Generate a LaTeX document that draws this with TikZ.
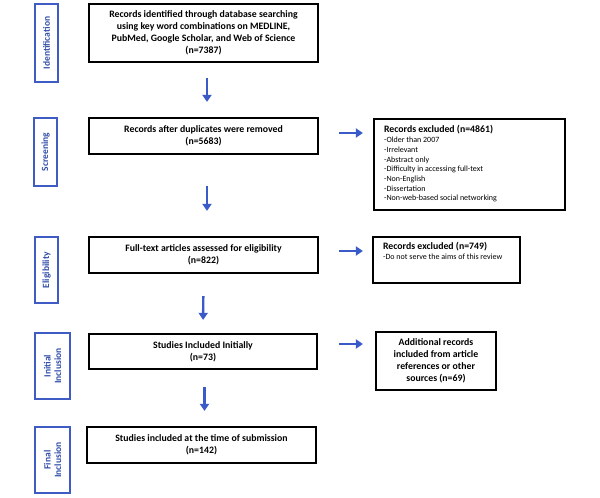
\documentclass[tikz,border=0pt]{standalone}
\usepackage{fontspec}
\setmainfont{Carlito}
\usetikzlibrary{arrows.meta}
\definecolor{phaseblue}{RGB}{62,92,196}
\definecolor{phasetext}{RGB}{48,78,170}
\definecolor{arrowblue}{RGB}{58,90,200}
\tikzset{
  mainbox/.style={draw=black, line width=2.2pt, minimum width=#1, inner sep=0pt, align=center,
    font=\fontsize{9.8}{12}\selectfont\bfseries},
  sidebox/.style={draw=black, line width=2.2pt, inner sep=0pt},
  phasebox/.style={draw=phaseblue, line width=1.7pt, rotate=90, inner sep=0pt, align=center,
    text=phasetext, font=\fontsize{9.5}{10.5}\selectfont\bfseries},
  arr/.style={draw=arrowblue, line width=2.4pt, -{Triangle[width=9pt,length=7pt]}},
  listtext/.style={anchor=north west, inner sep=0pt, align=left, font=\fontsize{8}{9.7}\selectfont},
  titletext/.style={anchor=west, inner sep=0pt, font=\fontsize{9.8}{12}\selectfont\bfseries}
}
\begin{document}
\begin{tikzpicture}[x=1pt,y=-1pt]
\useasboundingbox[fill=white] (0,0) rectangle (600,498);
% phase labels
\node[phasebox, minimum width=78pt, minimum height=23pt] (p1) at (46.5,43) {Identification};
\node[phasebox, minimum width=68pt, minimum height=23pt] (p2) at (45.5,152) {Screening};
\node[phasebox, minimum width=66pt, minimum height=23pt] (p3) at (46.5,270) {Eligibility};
\node[phasebox, minimum width=66pt, minimum height=35pt] (p4) at (52.5,366) {Initial\\Inclusion};
\node[phasebox, minimum width=66pt, minimum height=35pt] (p5) at (52.5,460) {Final\\Inclusion};
% main boxes
\node[mainbox=229pt, minimum height=58pt] (b1) at (203.5,33) {Records identified through database searching\\using key word combinations on MEDLINE,\\PubMed, Google Scholar, and Web of Science\\(n=7387)};
\node[mainbox=229pt, minimum height=36pt] (b2) at (203.5,136) {Records after duplicates were removed\\(n=5683)};
\node[mainbox=229pt, minimum height=36pt] (b3) at (203.5,255) {Full-text articles assessed for eligibility\\(n=822)};
\node[mainbox=228pt, minimum height=35pt] (b4) at (203,351.5) {Studies Included Initially\\(n=73)};
\node[mainbox=229pt, minimum height=36pt] (b5) at (201.5,445) {Studies included at the time of submission\\(n=142)};
% side boxes
\node[sidebox, minimum width=191pt, minimum height=91pt] (ex1) at (469.5,164.5) {};
\node[titletext] (ex1t) at ([xshift=11pt,yshift=-12pt]ex1.north west) {Records excluded (n=4861)};
\node[listtext] (ex1l) at ([xshift=11pt,yshift=-19pt]ex1.north west) {-Older than 2007\\-Irrelevant\\-Abstract only\\-Difficulty in accessing full-text\\-Non-English\\-Dissertation\\-Non-web-based social networking};
\node[sidebox, minimum width=147pt, minimum height=46pt] (ex2) at (446.5,260) {};
\node[titletext] (ex2t) at ([xshift=11pt,yshift=-11pt]ex2.north west) {Records excluded (n=749)};
\node[listtext] (ex2l) at ([xshift=11pt,yshift=-18pt]ex2.north west) {-Do not serve the aims of this review};
\node[mainbox=120pt, minimum height=58pt] (ad) at (436,361) {Additional records\\included from article\\references or other\\sources (n=69)};
% vertical arrows
\draw[arr, shorten <=15pt, shorten >=15pt] ([xshift=3.5pt]b1.south) -- ([xshift=3.5pt]b2.north);
\draw[arr, shorten <=31pt, shorten >=25pt] ([xshift=3.5pt]b2.south) -- ([xshift=3.5pt]b3.north);
\draw[arr, shorten <=22pt, shorten >=13pt] (b3.south) -- (b4.north);
\draw[arr, shorten <=17pt, shorten >=15pt] ([xshift=1.5pt]b4.south) -- ([xshift=1.5pt]b4.south |- b5.north);
% horizontal arrows
\draw[arr, shorten <=20pt, shorten >=10pt] ([yshift=3pt]b2.east) -- ([yshift=3pt]b2.east -| ex1.west);
\draw[arr, shorten <=20pt, shorten >=9pt] ([yshift=4pt]b3.east) -- ([yshift=4pt]b3.east -| ex2.west);
\draw[arr, shorten <=21pt, shorten >=12pt] ([yshift=7.5pt]b4.east) -- ([yshift=7.5pt]b4.east -| ad.west);
\end{tikzpicture}
\end{document}
